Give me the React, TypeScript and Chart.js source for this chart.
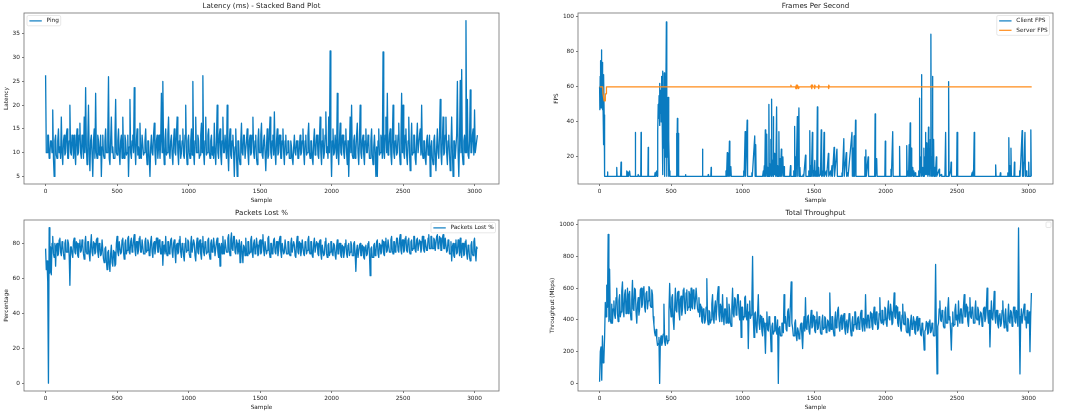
import { useEffect, useRef } from "react";
import { Chart, registerables } from "chart.js";

Chart.register(...registerables);

// the dense series every 5 samples
const SAMPLE_STEP = 5;

const sampleTicks = [0, 500, 1000, 1500, 2000, 2500, 3000];
const latencyTicks = [5, 10, 15, 20, 25, 30, 35];
const fpsTicks = [20, 40, 60, 80, 100];
const percentTicks = [0, 20, 40, 60, 80];
const throughputTicks = [0, 200, 400, 600, 800, 1000];

// Ping (ms), one row = 100 samples
const latencyPing = [
  26.3, 10, 10, 13.7, 13.7, 8.8, 9.5, 12.5, 12.5, 10, 19, 8.8, 5, 12.5, 13.7, 9.5, 8.8, 12.5, 15, 10,
  11.2, 8.8, 17.5, 10, 7.5, 12.5, 13.7, 9.5, 10, 13.7, 15, 8.8, 8.8, 12.5, 20, 10, 9.5, 13.7, 12.5, 8.8,
  13.7, 10, 7.5, 12.5, 15, 9.5, 10, 13.7, 16.2, 10, 8.8, 13.7, 12.5, 8.8, 17.5, 10, 23.7, 11.2, 7.5, 12.5,
  20, 10, 6.2, 12.5, 13.7, 9.5, 5, 12.5, 15, 8.8, 22.5, 10, 8.8, 13.7, 12.5, 9.5, 10, 13.7, 5, 11.2,
  13.7, 9.5, 8.8, 12.5, 15, 10, 10, 13.7, 26, 8.8, 7.5, 12.5, 17.5, 10, 11.2, 8.8, 8.8, 13.7, 21.2, 10,
  9.5, 12.5, 15, 10, 7.5, 12.5, 13.7, 8.8, 17.5, 10, 8.8, 13.7, 12.5, 9.5, 10, 13.7, 5, 11.2, 21.2, 10,
  8.8, 12.5, 13.7, 10, 23.7, 11.2, 7.5, 12.5, 15, 9.5, 11.2, 8.8, 16.2, 10, 8.8, 13.7, 13.7, 9.5, 10, 12.5,
  15, 10, 7.5, 12.5, 12.5, 8.8, 5, 11.2, 13.7, 10, 9.5, 13.7, 16.2, 10, 7.5, 12.5, 13.7, 8.8, 11.2, 13.7,
  8.8, 12.5, 22.5, 10, 25, 11.2, 7.5, 12.5, 15, 9.5, 10, 13.7, 17.5, 10, 8.8, 12.5, 13.7, 9.5, 7.5, 12.5,
  15, 10, 9.5, 13.7, 17.5, 10, 7.5, 12.5, 13.7, 8.8, 10, 12.5, 15, 9.5, 8.8, 13.7, 20, 10, 7.5, 12.5,
  13.7, 10, 8.8, 12.5, 15, 9.5, 25, 10, 7.5, 12.5, 17.5, 10, 10, 13.7, 12.5, 8.8, 9.5, 13.7, 16.2, 10,
  26.2, 10, 7.5, 12.5, 17.5, 9.5, 10, 13.7, 15, 10, 8.8, 12.5, 13.7, 9.5, 11.2, 8.8, 16.2, 10, 7.5, 12.5,
  20, 10, 8.8, 13.7, 15, 9.5, 7.5, 12.5, 17.5, 10, 10, 13.7, 13.7, 8.8, 20, 10, 6.2, 12.5, 15, 9.5,
  8.8, 12.5, 13.7, 10, 5, 11.2, 15, 9.5, 5, 12.5, 12.5, 8.8, 7.5, 12.5, 16.2, 10, 9.5, 13.7, 13.7, 8.8,
  8.8, 12.5, 15, 10, 7.5, 12.5, 13.7, 9.5, 10, 13.7, 17.5, 10, 8.8, 12.5, 13.7, 8.8, 7.5, 12.5, 15, 10,
  10, 13.7, 16.2, 9.5, 8.8, 12.5, 13.7, 10, 6.2, 11.2, 15, 8.8, 9.5, 13.7, 17.5, 10, 8.8, 12.5, 13.7, 9.5,
  18.6, 10, 7.5, 12.5, 15, 9.5, 10, 13.7, 13.7, 8.8, 8.8, 12.5, 15, 10, 7.5, 12.5, 13.7, 9.5, 10, 12.5,
  12.5, 8.8, 8.8, 12.5, 11.2, 8.8, 7.5, 11.2, 13.7, 10, 9.5, 12.5, 12.5, 8.8, 8.8, 11.2, 13.7, 9.5, 10, 12.5,
  15, 10, 7.5, 12.5, 13.7, 9.5, 10, 13.7, 16.2, 10, 8.8, 12.5, 12.5, 8.8, 7.5, 12.5, 15, 9.5, 10, 13.7,
  13.7, 9.5, 8.8, 12.5, 17.5, 10, 7.5, 12.5, 15, 8.8, 10, 13.7, 18.6, 10, 11.2, 8.8, 17.5, 10, 31.4, 11.2,
  5, 12.5, 15, 9.5, 10, 13.7, 13.7, 8.8, 22.5, 10, 7.5, 12.5, 16.2, 10, 9.5, 13.7, 13.7, 10, 8.8, 12.5,
  15, 10, 7.5, 12.5, 5, 11.2, 17.5, 10, 20, 9.5, 8.8, 12.5, 13.7, 8.8, 10, 13.7, 16.2, 10, 7.5, 12.5,
  20, 10, 8.8, 12.5, 13.7, 9.5, 7.5, 12.5, 15, 10, 10, 13.7, 12.5, 8.8, 8.8, 12.5, 15, 9.5, 7.5, 11.2,
  13.7, 10, 5, 11.2, 5, 12.5, 15, 9.5, 10, 13.7, 12.5, 8.8, 31.2, 10, 8.8, 13.7, 17.5, 10, 22.5, 9.5,
  10, 13.7, 15, 9.5, 7.5, 12.5, 20, 10, 8.8, 12.5, 13.7, 9.5, 10, 13.7, 16.2, 10, 7.5, 12.5, 22.5, 10,
  20, 10, 8.8, 13.7, 15, 9.5, 7.5, 12.5, 17.5, 10, 6.2, 11.2, 16.2, 9.5, 10, 13.7, 13.7, 8.8, 7.5, 12.5,
  16.2, 10, 10, 13.7, 15, 9.5, 20, 10, 8.8, 12.5, 12.5, 8.8, 7.5, 12.5, 13.7, 9.5, 10, 13.7, 5, 11.2,
  12.5, 8.8, 7.5, 12.5, 13.7, 9.5, 6.2, 11.2, 15, 10, 8.8, 13.7, 21.2, 10, 7.5, 12.5, 17.5, 9.5, 10, 13.7,
  17.5, 10, 7.5, 12.5, 13.7, 9.5, 6.2, 11.2, 17.5, 10, 5, 12.5, 12.5, 8.8, 8.8, 13.7, 25, 10, 5, 12.5,
  25.2, 10, 27.5, 9.5, 7.5, 12.5, 13.7, 10, 37.8, 10, 21.2, 9.5, 8.8, 12.5, 23.2, 10, 10, 13.7, 15, 9.5,
  19, 10, 10, 12.5, 13.7,
];

// [sample, fps]
const clientFps: [number, number][] = [
  [0, 60], [2, 47], [4, 66], [6, 50], [8, 75], [10, 48], [12, 70], [14, 81], [16, 52], [18, 74],
  [20, 47], [22, 66], [24, 50], [26, 62], [28, 27], [30, 67], [32, 44], [35, 9],
  [52, 9], [55, 11.5], [58, 9], [118, 9], [120, 14], [122, 9], [147, 9], [150, 17], [153, 9],
  [188, 9], [190, 12], [194, 9], [198, 11.5], [202, 9], [210, 12], [214, 9],
  [248, 9], [250, 34], [252, 9], [268, 9], [270, 10], [276, 9], [288, 9], [290, 34], [292, 9],
  [338, 9], [340, 25.5], [342, 9], [385, 9], [388, 11], [392, 9], [398, 12], [402, 9],
  [405, 9], [408, 35], [410, 50], [413, 42], [416, 55], [419, 38], [422, 62], [425, 45], [428, 58],
  [431, 40], [434, 66], [437, 48], [440, 69], [443, 10], [446, 60], [449, 25], [452, 68], [455, 9],
  [458, 55], [461, 20], [464, 45], [467, 97], [470, 9], [473, 40], [476, 20], [479, 54], [482, 9],
  [485, 30], [488, 12], [492, 9],
  [535, 9], [538, 33.5], [541, 9], [544, 42], [547, 9], [550, 33.5], [553, 9],
  [598, 9], [600, 10], [604, 9], [718, 9], [720, 24.5], [722, 9], [758, 9], [760, 10], [762, 9],
  [778, 9], [780, 14], [782, 9],
  [880, 9], [884, 12], [888, 9], [893, 22.5], [896, 9], [900, 22], [903, 9], [908, 29], [911, 9],
  [918, 14.5], [921, 9],
  [1005, 9], [1008, 12], [1011, 9], [1018, 34.5], [1021, 9], [1032, 41], [1035, 9],
  [1062, 9], [1065, 11], [1068, 9], [1085, 32], [1088, 9], [1092, 27], [1095, 9],
  [1140, 9], [1145, 12], [1148, 9], [1152, 15], [1155, 9], [1159, 35.5], [1162, 9], [1166, 20],
  [1169, 33], [1172, 9], [1176, 14], [1179, 9], [1184, 50], [1187, 9], [1191, 16], [1194, 10],
  [1198, 30], [1201, 9], [1203, 53], [1206, 10], [1210, 18], [1213, 9], [1215, 43], [1218, 9],
  [1222, 22], [1225, 10], [1229, 14], [1232, 9], [1238, 48.5], [1241, 9], [1245, 15], [1248, 9],
  [1254, 34.5], [1257, 9], [1262, 19], [1265, 9], [1271, 24.5], [1274, 9], [1282, 20], [1285, 9],
  [1290, 14.5], [1293, 9],
  [1330, 9], [1335, 15], [1338, 9], [1355, 9], [1358, 12], [1361, 9], [1364, 37.5], [1367, 9],
  [1372, 20], [1375, 9], [1383, 43], [1386, 9], [1394, 48], [1397, 9], [1401, 14], [1404, 9],
  [1420, 9], [1425, 10], [1428, 9], [1440, 21], [1443, 9], [1460, 9], [1463, 12], [1466, 9],
  [1470, 35], [1473, 9], [1478, 15], [1481, 9], [1488, 34], [1491, 9], [1496, 12], [1499, 9],
  [1505, 18], [1508, 9], [1515, 12], [1518, 9], [1523, 48.5], [1526, 9], [1532, 14], [1535, 9],
  [1545, 10], [1550, 35.5], [1553, 9], [1560, 12], [1563, 9], [1570, 34], [1573, 9],
  [1585, 12], [1588, 9], [1600, 22], [1603, 9], [1615, 12], [1618, 9], [1625, 15], [1628, 9],
  [1640, 25.5], [1643, 9], [1660, 24.5], [1663, 9],
  [1690, 9], [1695, 11], [1698, 9], [1708, 30.5], [1711, 9], [1725, 22.5], [1728, 9],
  [1735, 11], [1738, 9], [1765, 34], [1768, 9], [1773, 25], [1776, 9], [1780, 32], [1783, 9],
  [1790, 41], [1793, 9],
  [1850, 9], [1855, 20], [1858, 9], [1862, 24], [1865, 9], [1878, 20], [1881, 9],
  [1920, 9], [1924, 12], [1927, 44.5], [1930, 9], [1938, 19], [1941, 9],
  [1995, 9], [1998, 29], [2001, 9], [2035, 9], [2038, 13], [2041, 9], [2050, 34.5], [2053, 9],
  [2095, 9], [2098, 26], [2101, 9],
  [2145, 9], [2148, 26.5], [2151, 9], [2158, 12], [2161, 9], [2165, 27], [2168, 9], [2172, 39.5],
  [2175, 9], [2180, 25], [2183, 9], [2190, 14], [2193, 9], [2198, 12], [2201, 9], [2208, 11], [2211, 9],
  [2228, 9], [2232, 12], [2235, 9], [2238, 53.5], [2241, 9], [2248, 20], [2251, 67], [2254, 9],
  [2260, 14], [2263, 9], [2268, 25], [2271, 9], [2276, 20], [2279, 34], [2282, 10], [2286, 28],
  [2289, 10], [2293, 18], [2296, 9], [2300, 37], [2303, 10], [2307, 22], [2310, 9], [2313, 30],
  [2317, 90], [2320, 9], [2325, 20], [2328, 66], [2331, 9], [2336, 30], [2339, 9], [2345, 14],
  [2348, 9], [2355, 20], [2358, 9], [2375, 13], [2378, 9], [2390, 10], [2393, 9],
  [2415, 9], [2420, 34], [2423, 9], [2438, 9], [2441, 63], [2444, 9], [2455, 12], [2458, 17], [2461, 9],
  [2497, 9], [2500, 34], [2503, 34], [2506, 9],
  [2600, 9], [2605, 11], [2608, 9], [2612, 12], [2615, 9], [2620, 34], [2623, 9],
  [2767, 9], [2770, 15.5], [2773, 9], [2800, 9], [2803, 11], [2806, 9],
  [2850, 9], [2855, 11], [2858, 9], [2862, 31], [2865, 9], [2870, 15], [2873, 9], [2877, 25], [2880, 9],
  [2898, 9], [2901, 17], [2904, 9],
  [2935, 9], [2938, 12], [2941, 9], [2955, 35], [2958, 9], [2962, 17], [2965, 9], [2975, 34], [2978, 9],
  [2985, 12], [2988, 9], [2998, 9], [3001, 17], [3004, 9], [3012, 9], [3016, 35.5], [3019, 9], [3022, 9],
];

// [sample, fps]
const serverFps: [number, number][] = [
  [0, 60], [22, 60], [24, 56], [30, 56], [32, 52], [38, 52], [40, 56], [46, 56], [48, 60],
  [1335, 60], [1338, 61], [1341, 60], [1370, 60], [1373, 59], [1376, 61], [1380, 59], [1384, 61],
  [1388, 60], [1392, 59], [1396, 60], [1478, 60], [1481, 61], [1484, 59], [1487, 61], [1490, 60],
  [1500, 60], [1503, 59], [1506, 61], [1509, 60], [1528, 60], [1531, 59], [1534, 61], [1537, 60],
  [1598, 60], [1601, 59], [1604, 61], [1607, 60], [3022, 60],
];

// Packets Lost %, one row = 100 samples
const packetsLostPct = [
  77, 65, 70, 58, 0, 89, 63, 78, 62, 80, 84, 74, 72, 80, 67, 79, 80, 73, 74, 82,
  83, 75, 73, 81, 79, 74, 71, 80, 82, 75, 75, 82, 80, 73, 56, 78, 78, 74, 72, 81,
  83, 75, 74, 81, 80, 73, 72, 80, 82, 75, 76, 82, 79, 74, 71, 80, 84, 75, 74, 81,
  81, 74, 70, 79, 85, 75, 73, 81, 80, 74, 75, 82, 83, 75, 72, 80, 79, 73, 74, 82,
  82, 71, 69, 77, 78, 70, 65, 75, 76, 68, 64, 74, 79, 69, 67, 76, 75, 67, 68, 80,
  84, 75, 73, 81, 81, 74, 75, 82, 83, 75, 71, 80, 82, 74, 76, 83, 84, 75, 74, 81,
  83, 75, 77, 82, 85, 76, 73, 81, 81, 74, 76, 83, 84, 75, 75, 82, 82, 74, 74, 81,
  83, 75, 76, 82, 80, 73, 74, 81, 84, 75, 72, 80, 81, 74, 77, 83, 83, 75, 75, 82,
  80, 74, 74, 81, 67.5, 78, 79, 74, 84, 75, 73, 81, 81, 74, 76, 82, 83, 75, 72, 80,
  82, 75, 69, 79, 80, 74, 75, 82, 84, 75, 72, 80, 79, 73, 70, 80, 83, 75, 76, 82,
  81, 74, 72, 80, 84, 75, 75, 82, 80, 73, 70, 79, 83, 75, 74, 81, 82, 74, 71, 80,
  84, 75, 73, 81, 80, 74, 75, 82, 83, 74, 71, 80, 82, 75, 76, 83, 79, 73, 73, 81,
  83, 75, 72, 80, 67, 78, 80, 74, 84, 75, 74, 82, 82, 75, 75, 83, 85, 76, 73, 82,
  86, 77, 76, 84, 84, 75, 74, 82, 80, 74, 76, 82, 69, 78, 81, 74, 69, 79, 78, 73,
  83, 75, 73, 81, 81, 74, 75, 82, 84, 75, 72, 80, 82, 74, 76, 83, 79, 73, 74, 81,
  82, 74, 75, 82, 85, 76, 73, 81, 81, 74, 76, 83, 84, 75, 72, 80, 80, 74, 75, 82,
  83, 75, 74, 81, 81, 73, 76, 82, 84, 75, 72, 80, 80, 74, 75, 82, 82, 74, 74, 81,
  81, 74, 73, 80, 83, 75, 75, 81, 79, 73, 72, 80, 84, 75, 74, 81, 80, 73, 76, 82,
  82, 74, 73, 81, 80, 74, 76, 82, 84, 75, 74, 81, 81, 73, 72, 80, 83, 75, 75, 81,
  80, 74, 73, 81, 82, 74, 71, 79, 79, 73, 74, 81, 83, 74, 72, 79, 80, 73, 75, 81,
  81, 74, 73, 80, 79, 73, 71, 78, 82, 74, 74, 80, 80, 73, 72, 79, 78, 72, 75, 80,
  82, 74, 72, 79, 80, 73, 75, 81, 79, 73, 73, 80, 81, 74, 64, 76, 79, 72, 72, 79,
  80, 73, 73, 79, 78, 72, 71, 78, 79, 73, 74, 80, 81, 74, 61.5, 77, 78, 72, 72, 79,
  80, 73, 74, 81, 82, 74, 72, 80, 79, 74, 75, 82, 81, 74, 73, 81, 83, 75, 76, 82,
  82, 75, 75, 82, 84, 76, 74, 81, 81, 75, 77, 83, 83, 76, 75, 82, 85, 76, 74, 82,
  82, 75, 76, 83, 84, 76, 75, 82, 83, 75, 74, 81, 82, 76, 77, 84, 84, 76, 75, 82,
  83, 76, 76, 82, 81, 75, 77, 84, 84, 76, 75, 82, 82, 76, 76, 83, 85, 77, 77, 84,
  84, 77, 77, 83, 82, 76, 76, 84, 85, 77, 78, 84, 83, 76, 76, 83, 85, 77, 77, 83,
  83, 75, 76, 82, 81, 74, 74, 81, 70, 78, 80, 73, 72, 80, 82, 74, 75, 82, 80, 73,
  83, 75, 72, 80, 80, 73, 74, 81, 82, 74, 71, 79, 78, 72, 70, 79, 81, 74, 73, 81,
  83, 75, 70, 78, 77,
];

// Total throughput (Mbps), one row = 100 samples
const throughputMbps = [
  10, 200, 230, 20, 300, 130, 150, 290, 510, 420, 620, 480, 940, 390, 720, 400, 380, 500, 380, 470,
  520, 430, 410, 540, 600, 440, 390, 520, 560, 420, 450, 580, 640, 460, 420, 560, 590, 440, 480, 600,
  440, 560, 580, 450, 400, 530, 650, 470, 460, 600, 590, 450, 380, 500, 540, 430, 470, 590, 600, 480,
  500, 600, 610, 480, 450, 570, 580, 470, 520, 610, 600, 490, 480, 590, 560, 420, 370, 320, 300, 340,
  280, 240, 250, 290, 0, 270, 300, 240, 260, 310, 500, 260, 240, 300, 290, 250, 270, 450, 630, 480,
  420, 540, 560, 400, 340, 480, 600, 460, 450, 570, 580, 450, 400, 530, 550, 430, 470, 590, 600, 480,
  440, 570, 590, 460, 480, 580, 560, 460, 600, 480, 470, 590, 580, 470, 520, 600, 600, 470, 450, 540,
  420, 500, 480, 390, 380, 470, 460, 380, 400, 480, 660, 400, 370, 460, 450, 380, 400, 500, 560, 420,
  380, 480, 520, 400, 400, 560, 610, 430, 390, 500, 480, 390, 560, 420, 370, 470, 470, 380, 540, 420,
  380, 500, 460, 380, 360, 480, 600, 440, 420, 540, 530, 430, 440, 560, 560, 440, 400, 520, 290, 480,
  480, 400, 420, 540, 550, 420, 400, 500, 220, 450, 520, 410, 430, 520, 800, 420, 290, 440, 450, 360,
  320, 440, 560, 380, 340, 430, 420, 330, 300, 410, 380, 320, 190, 380, 450, 340, 330, 420, 400, 320,
  200, 360, 380, 310, 330, 420, 420, 330, 310, 400, 0, 350, 360, 300, 300, 380, 380, 320, 560, 380,
  420, 340, 330, 450, 470, 360, 380, 520, 640, 380, 350, 300, 300, 380, 400, 300, 270, 350, 330, 280,
  300, 370, 380, 300, 220, 350, 420, 330, 540, 350, 340, 420, 430, 330, 310, 400, 460, 350, 360, 430,
  420, 330, 320, 400, 450, 340, 350, 420, 400, 320, 310, 390, 430, 340, 350, 420, 410, 320, 330, 400,
  390, 330, 570, 380, 340, 420, 420, 330, 300, 400, 450, 350, 370, 460, 480, 360, 330, 410, 430, 340,
  350, 420, 440, 340, 310, 390, 400, 320, 360, 440, 430, 340, 300, 380, 420, 330, 370, 450, 450, 350,
  340, 410, 420, 340, 360, 440, 460, 360, 330, 410, 400, 330, 560, 380, 350, 430, 430, 350, 380, 450,
  440, 360, 340, 430, 480, 380, 370, 450, 420, 340, 350, 440, 540, 400, 380, 460, 460, 370, 400, 480,
  470, 380, 360, 460, 520, 410, 400, 500, 450, 370, 380, 470, 570, 420, 410, 490, 480, 380, 360, 450,
  440, 350, 330, 430, 500, 380, 370, 450, 420, 330, 320, 410, 400, 320, 300, 390, 430, 340, 350, 420,
  390, 320, 310, 400, 420, 330, 340, 410, 380, 310, 300, 380, 360, 300, 210, 330, 340, 390, 380, 310,
  320, 390, 400, 320, 330, 380, 360, 300, 300, 370, 750, 340, 60, 360, 380, 470, 520, 400, 390, 460,
  440, 360, 350, 450, 480, 380, 380, 470, 540, 400, 420, 330, 210, 380, 450, 360, 370, 460, 500, 400,
  430, 360, 520, 410, 380, 470, 470, 380, 400, 490, 560, 420, 420, 500, 480, 390, 360, 450, 540, 420,
  410, 480, 470, 380, 380, 460, 520, 410, 400, 480, 460, 370, 370, 450, 440, 360, 390, 470, 480, 390,
  410, 480, 600, 430, 380, 460, 230, 400, 520, 410, 400, 480, 580, 420, 380, 460, 460, 370, 350, 430,
  440, 360, 380, 460, 520, 400, 350, 430, 470, 370, 330, 410, 500, 390, 380, 460, 450, 360, 400, 480,
  480, 390, 380, 460, 440, 360, 980, 420, 60, 400, 470, 380, 380, 460, 500, 400, 420, 350, 460, 380,
  380, 450, 200, 420, 570,
];

const BLUE = "#0a7bc0";
const ORANGE = "#ff8c1a";
const FONT = "DejaVu Sans";
const TEXT = "#222";

const stepped = (values: number[]) =>
  values.map((y, i) => ({ x: i * SAMPLE_STEP, y }));
const paired = (pts: [number, number][]) => pts.map(([x, y]) => ({ x, y }));

interface Series {
  label: string;
  color: string;
  points: { x: number; y: number }[];
  order?: number;
}

interface Panel {
  left: number;
  top: number;
  width: number;
  height: number;
  title: string;
  yTitle: string;
  yMin: number;
  yMax: number;
  yTicks: number[];
  yWidth: number;
  yTitlePad: number;
  padRight: number;
  series: Series[];
  legendSide: "left" | "right";
  emptyLegend?: boolean;
}

const panels: Panel[] = [
  {
    left: 0, top: 0, width: 532, height: 207,
    title: "Latency (ms) - Stacked Band Plot", yTitle: "Latency",
    yMin: 3.4, yMax: 39.4, yTicks: latencyTicks, yWidth: 24, yTitlePad: 3.5, padRight: 33,
    series: [{ label: "Ping", color: BLUE, points: stepped(latencyPing) }],
    legendSide: "left",
  },
  {
    left: 532, top: 0, width: 533, height: 207,
    title: "Frames Per Second", yTitle: "FPS",
    yMin: 4.6, yMax: 102.1, yTicks: fpsTicks, yWidth: 46, yTitlePad: 21.5, padRight: 12,
    series: [
      { label: "Client FPS", color: BLUE, points: paired(clientFps), order: 1 },
      { label: "Server FPS", color: ORANGE, points: paired(serverFps), order: 0 },
    ],
    legendSide: "right",
  },
  {
    left: 0, top: 207, width: 532, height: 207,
    title: "Packets Lost %", yTitle: "Percentage",
    yMin: -4.5, yMax: 93.4, yTicks: percentTicks, yWidth: 24, yTitlePad: 3.5, padRight: 33,
    series: [{ label: "Packets Lost %", color: BLUE, points: stepped(packetsLostPct) }],
    legendSide: "right",
  },
  {
    left: 532, top: 207, width: 533, height: 207,
    title: "Total Throughput", yTitle: "Throughput (Mbps)",
    yMin: -48, yMax: 1030, yTicks: throughputTicks, yWidth: 46, yTitlePad: 17.5, padRight: 12,
    series: [{ label: "Throughput", color: BLUE, points: stepped(throughputMbps) }],
    legendSide: "right",
    emptyLegend: true,
  },
];

function roundRect(ctx: CanvasRenderingContext2D, x: number, y: number, w: number, h: number, r: number) {
  ctx.beginPath();
  ctx.moveTo(x + r, y);
  ctx.lineTo(x + w - r, y);
  ctx.quadraticCurveTo(x + w, y, x + w, y + r);
  ctx.lineTo(x + w, y + h - r);
  ctx.quadraticCurveTo(x + w, y + h, x + w - r, y + h);
  ctx.lineTo(x + r, y + h);
  ctx.quadraticCurveTo(x, y + h, x, y + h - r);
  ctx.lineTo(x, y + r);
  ctx.quadraticCurveTo(x, y, x + r, y);
  ctx.closePath();
}

// frame, title and matplotlib-style legend box
function decorations(panel: Panel) {
  return {
    id: "decorations",
    afterDraw(chart: any) {
      const { ctx, chartArea: a } = chart;
      ctx.save();
      ctx.strokeStyle = "#707070";
      ctx.lineWidth = 0.8;
      ctx.strokeRect(a.left, a.top, a.right - a.left, a.bottom - a.top);

      ctx.fillStyle = TEXT;
      ctx.font = `7.1px "${FONT}"`;
      ctx.textAlign = "center";
      ctx.textBaseline = "middle";
      ctx.fillText(panel.title, (a.left + a.right) / 2, a.top - 6.7);

      ctx.font = `5.8px "${FONT}"`;
      ctx.textAlign = "left";
      if (panel.emptyLegend) {
        roundRect(ctx, a.right - 7, a.top + 2, 5, 5.5, 1);
        ctx.fillStyle = "rgba(255,255,255,0.8)";
        ctx.fill();
        ctx.strokeStyle = "#d6d6d6";
        ctx.lineWidth = 0.6;
        ctx.stroke();
      } else {
        const textW = Math.max(...panel.series.map((s) => ctx.measureText(s.label).width));
        const w = 2.4 + 12.4 + 4.8 + textW + 1.8;
        const h = 0.8 + panel.series.length * 9.5;
        const x = panel.legendSide === "left" ? a.left + 3 : a.right - 3.5 - w;
        const y = a.top + 2.5;
        roundRect(ctx, x, y, w, h, 1.5);
        ctx.fillStyle = "rgba(255,255,255,0.85)";
        ctx.fill();
        ctx.strokeStyle = "#d6d6d6";
        ctx.lineWidth = 0.6;
        ctx.stroke();
        panel.series.forEach((s, i) => {
          const ly = y + 5.4 + i * 9.4;
          ctx.strokeStyle = s.color;
          ctx.lineWidth = 1.2;
          ctx.beginPath();
          ctx.moveTo(x + 2.4, ly);
          ctx.lineTo(x + 14.8, ly);
          ctx.stroke();
          ctx.fillStyle = TEXT;
          ctx.textBaseline = "middle";
          ctx.fillText(s.label, x + 19.6, ly);
        });
      }
      ctx.restore();
    },
  };
}

function PanelChart({ panel }: { panel: Panel }) {
  const canvasRef = useRef<HTMLCanvasElement>(null);

  useEffect(() => {
    if (!canvasRef.current) return;
    const tickFont = { family: FONT, size: 5.8 };
    const chart = new Chart(canvasRef.current, {
      type: "line",
      data: {
        datasets: panel.series.map((s) => ({
          label: s.label,
          data: s.points,
          borderColor: s.color,
          backgroundColor: s.color,
          borderWidth: 1.3,
          borderJoinStyle: "round",
          pointRadius: 0,
          tension: 0,
          fill: false,
          order: s.order ?? 0,
        })),
      },
      options: {
        animation: false,
        responsive: false,
        maintainAspectRatio: false,
        events: [],
        layout: { padding: { left: 0, top: 13, right: panel.padRight, bottom: 0 } },
        plugins: {
          legend: { display: false },
          title: { display: false },
          tooltip: { enabled: false },
        },
        scales: {
          x: {
            type: "linear",
            min: -151,
            max: 3171,
            afterBuildTicks: (s: any) => {
              s.ticks = sampleTicks.map((value) => ({ value }));
            },
            afterFit: (s: any) => {
              s.height = 23;
            },
            border: { display: false },
            grid: { drawOnChartArea: false, tickLength: 2, tickColor: TEXT, tickWidth: 0.6 },
            ticks: {
              autoSkip: false,
              maxRotation: 0,
              padding: 2,
              color: TEXT,
              font: tickFont,
              callback: (v: any) => String(v),
            },
            title: {
              display: true,
              text: "Sample",
              color: TEXT,
              font: tickFont,
              padding: { top: 0, bottom: 3.2 },
            },
          },
          y: {
            type: "linear",
            min: panel.yMin,
            max: panel.yMax,
            afterBuildTicks: (s: any) => {
              s.ticks = panel.yTicks.map((value) => ({ value }));
            },
            afterFit: (s: any) => {
              s.width = panel.yWidth;
            },
            border: { display: false },
            grid: { drawOnChartArea: false, tickLength: 2, tickColor: TEXT, tickWidth: 0.6 },
            ticks: {
              padding: 2,
              color: TEXT,
              font: tickFont,
              callback: (v: any) => String(v),
            },
            title: {
              display: true,
              text: panel.yTitle,
              color: TEXT,
              font: tickFont,
              padding: { top: panel.yTitlePad, bottom: 0 },
            },
          },
        },
      } as any,
      plugins: [decorations(panel)],
    });
    return () => chart.destroy();
  }, [panel]);

  return (
    <div
      style={{
        position: "absolute",
        left: panel.left,
        top: panel.top,
        width: panel.width,
        height: panel.height,
      }}
    >
      <canvas
        ref={canvasRef}
        width={panel.width}
        height={panel.height}
        style={{ width: panel.width, height: panel.height, display: "block" }}
      />
    </div>
  );
}

export default function App() {
  useEffect(() => {
    document.body.style.margin = "0";
  }, []);

  return (
    <div style={{ position: "relative", width: 1065, height: 414, background: "#fff" }}>
      {panels.map((p) => (
        <PanelChart key={p.title} panel={p} />
      ))}
    </div>
  );
}
